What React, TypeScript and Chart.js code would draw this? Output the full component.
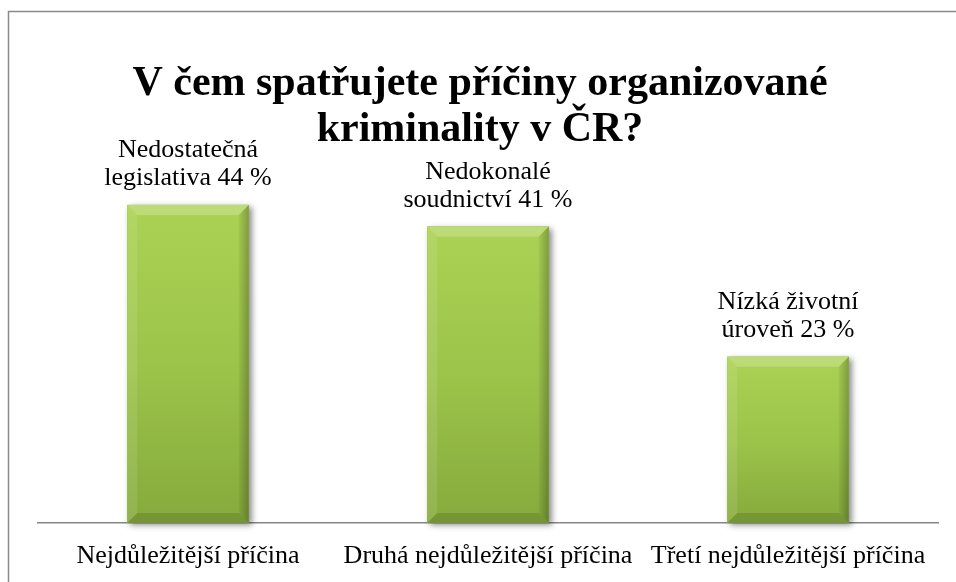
import React, { useEffect, useRef } from "react";
import { Chart, registerables } from "chart.js";

Chart.register(...registerables);

const titleLines = ["V čem spatřujete příčiny organizované", "kriminality v ČR?"];
const categories = [
  "Nejdůležitější příčina",
  "Druhá nejdůležitější příčina",
  "Třetí nejdůležitější příčina",
];
const values = [44, 41, 23];
const labelFirstLines = ["Nedostatečná", "Nedokonalé", "Nízká životní"];
const labelSecondLines = ["legislativa", "soudnictví", "úroveň"];

const SERIF = "'Liberation Serif', 'Times New Roman', serif";

const framePlugin = {
  id: "frame",
  beforeDraw(chart: any) {
    const ctx = chart.ctx;
    ctx.save();
    ctx.fillStyle = "#ffffff";
    ctx.fillRect(0, 0, chart.width, chart.height);
    ctx.strokeStyle = "#8a8a8a";
    ctx.lineWidth = 1.5;
    ctx.strokeRect(8.5, 11.5, chart.width + 20, chart.height + 20);
    ctx.restore();
  },
};

const titlePlugin = {
  id: "customTitle",
  afterDraw(chart: any) {
    const ctx = chart.ctx;
    ctx.save();
    ctx.fillStyle = "#000000";
    ctx.font = `bold 42px ${SERIF}`;
    ctx.textAlign = "center";
    ctx.textBaseline = "alphabetic";
    const cx = 480;
    ctx.fillText(titleLines[0], cx, 95);
    ctx.fillText(titleLines[1], cx, 141);
    ctx.restore();
  },
};

const barStylePlugin = {
  id: "barStyle",
  beforeDatasetsDraw(chart: any) {
    const ctx = chart.ctx;
    const meta = chart.getDatasetMeta(0);
    ctx.save();
    meta.data.forEach((el: any) => {
      const { x, y, base, width } = el.getProps(["x", "y", "base", "width"], true);
      const x0 = x - width / 2;
      ctx.shadowColor = "rgba(0,0,0,0.45)";
      ctx.shadowBlur = 6;
      ctx.shadowOffsetX = 3;
      ctx.shadowOffsetY = 2;
      ctx.fillStyle = "#8fb342";
      ctx.fillRect(x0, y, width, base - y);
    });
    ctx.restore();
  },
  afterDatasetsDraw(chart: any) {
    const ctx = chart.ctx;
    const meta = chart.getDatasetMeta(0);
    const b = 10;
    ctx.save();
    meta.data.forEach((el: any, i: number) => {
      const { x, y, base, width } = el.getProps(["x", "y", "base", "width"], true);
      const x0 = x - width / 2;
      const x1 = x + width / 2;
      const y0 = y;
      const y1 = base;
      const g = ctx.createLinearGradient(0, y0, 0, y1);
      g.addColorStop(0, "#abd253");
      g.addColorStop(0.5, "#9cc44a");
      g.addColorStop(1, "#86aa3c");
      ctx.fillStyle = g;
      ctx.fillRect(x0, y0, width, y1 - y0);
      ctx.fillStyle = "rgba(255,255,255,0.22)";
      ctx.beginPath();
      ctx.moveTo(x0, y0);
      ctx.lineTo(x1, y0);
      ctx.lineTo(x1 - b, y0 + b);
      ctx.lineTo(x0 + b, y0 + b);
      ctx.closePath();
      ctx.fill();
      ctx.fillStyle = "rgba(255,255,255,0.10)";
      ctx.beginPath();
      ctx.moveTo(x0, y0);
      ctx.lineTo(x0 + b, y0 + b);
      ctx.lineTo(x0 + b, y1 - b);
      ctx.lineTo(x0, y1);
      ctx.closePath();
      ctx.fill();
      const gr = ctx.createLinearGradient(x1 - b, 0, x1, 0);
      gr.addColorStop(0, "rgba(0,0,0,0.04)");
      gr.addColorStop(1, "rgba(0,0,0,0.25)");
      ctx.fillStyle = gr;
      ctx.beginPath();
      ctx.moveTo(x1, y0);
      ctx.lineTo(x1, y1);
      ctx.lineTo(x1 - b, y1 - b);
      ctx.lineTo(x1 - b, y0 + b);
      ctx.closePath();
      ctx.fill();
      ctx.fillStyle = "rgba(0,0,0,0.12)";
      ctx.beginPath();
      ctx.moveTo(x0, y1);
      ctx.lineTo(x1, y1);
      ctx.lineTo(x1 - b, y1 - b);
      ctx.lineTo(x0 + b, y1 - b);
      ctx.closePath();
      ctx.fill();
      ctx.fillStyle = "#000000";
      ctx.font = `26px ${SERIF}`;
      ctx.textAlign = "center";
      ctx.textBaseline = "alphabetic";
      ctx.fillText(labelFirstLines[i], x, y0 - 48);
      ctx.fillText(`${labelSecondLines[i]} ${values[i]} %`, x, y0 - 20);
    });
    ctx.restore();
  },
};

export default function App() {
  const canvasRef = useRef<HTMLCanvasElement | null>(null);

  useEffect(() => {
    if (!canvasRef.current) return;
    const chart = new Chart(canvasRef.current, {
      type: "bar",
      data: {
        labels: categories,
        datasets: [
          {
            data: values,
            backgroundColor: "#9cc44a",
            borderWidth: 0,
            barPercentage: 0.81,
            categoryPercentage: 0.5,
          },
        ],
      },
      options: {
        animation: false,
        responsive: false,
        maintainAspectRatio: false,
        layout: { padding: { left: 38, right: 18, top: 161.5, bottom: 0 } },
        plugins: {
          legend: { display: false },
          title: { display: false },
          tooltip: { enabled: false },
        },
        scales: {
          y: { display: false, min: 0, max: 50 },
          x: {
            afterFit: (scale: any) => {
              scale.height = 59;
            },
            grid: { display: false, drawTicks: false },
            border: { display: true, color: "#868686", width: 1.5 },
            ticks: {
              color: "#000000",
              padding: 18,
              maxRotation: 0,
              autoSkip: false,
              font: { family: SERIF, size: 26 },
            },
          },
        },
      },
      plugins: [framePlugin, barStylePlugin, titlePlugin],
    });
    return () => chart.destroy();
  }, []);

  return (
    <div style={{ position: "fixed", left: 0, top: 0, width: 956, height: 582 }}>
      <canvas ref={canvasRef} width={956} height={582} style={{ width: 956, height: 582 }} />
    </div>
  );
}
